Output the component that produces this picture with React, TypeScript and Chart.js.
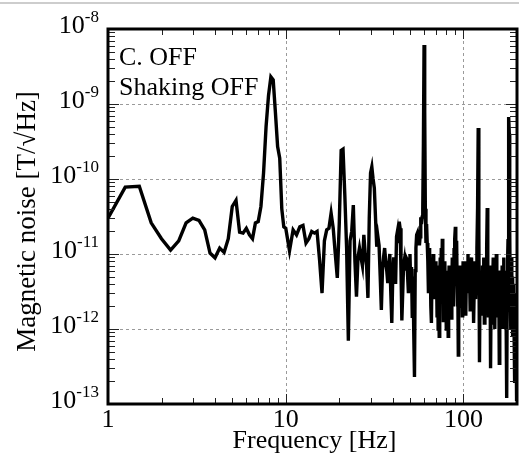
import React, { useEffect, useRef } from "react";
import { Chart, registerables } from "chart.js";

Chart.register(...registerables);

const FONT = '"Liberation Serif", "Times New Roman", Times, serif';

// Frequencies [Hz] and magnetic noise values in pT/√Hz (1 pT = 1e-12 T)
const freqA = [1, 1.25, 1.5, 1.75, 2, 2.25, 2.5, 2.75, 3, 3.25,
  3.5, 3.75, 4, 4.25, 4.5, 4.75, 5, 5.25, 5.5, 5.75,
  6, 6.25, 6.5, 6.75, 7, 7.25, 7.5, 7.75, 8, 8.25,
  8.5, 8.75, 9, 9.25, 9.5, 9.75];
const noiseA = [30, 78, 80, 26, 16, 11.3, 15, 26, 30, 28,
  21, 10.3, 8.9, 12, 10.5, 16, 43, 52, 19.5, 19,
  22, 18, 16, 26, 27, 43, 120, 500, 1300, 2300,
  2100, 760, 270, 190, 40, 23];

const freqB = [10, 10.5, 11, 11.5, 12, 12.5, 13, 13.5, 14, 14.5,
  15, 15.5, 16, 16.5, 17, 17.5, 18, 18.5, 19, 19.5,
  20, 20.5, 21, 21.5, 22, 22.5, 23, 23.5, 24, 24.5,
  25, 25.5, 26, 26.5, 27, 27.5, 28, 28.5, 29, 29.5];
const noiseB = [22, 11, 21, 18, 23, 24, 14, 16, 20, 19,
  20, 8.3, 3.0, 15, 21, 22, 35, 22, 10, 4.8,
  25, 240, 250, 60, 12, 0.7, 15, 20, 45, 8,
  2.7, 9, 12, 9, 7, 18, 10, 7, 2.6, 30];

const freqC = [30, 30.5, 31, 31.5, 32, 32.5, 33, 33.5, 34, 34.5,
  35, 35.5, 36, 36.5, 37, 37.5, 38, 38.5, 39, 39.5,
  40, 40.5, 41, 41.5, 42, 42.5, 43, 43.5, 44, 44.5,
  45, 45.5, 46, 46.5, 47, 47.5, 48, 48.5, 49, 49.5,
  50, 50.5, 51, 51.5, 52, 52.5, 53, 53.5, 54, 54.5,
  55, 55.5, 56, 56.5, 57, 57.5, 58, 58.5, 59, 59.5,
  60, 60.5, 61, 61.5, 62, 62.5];
const noiseC = [120, 145, 100, 76, 30, 12.5, 17, 13, 5, 1.8,
  6, 9, 12, 8, 6, 4.1, 7, 10, 3, 1.2,
  5, 9, 6, 4, 17, 20, 14, 27, 22, 6,
  1.3, 3, 7, 8.3, 6, 9, 8.5, 5, 3, 6,
  10, 3.3, 6.7, 1.4, 5, 0.9, 0.23, 6, 12, 18,
  19, 14, 21, 13, 17, 31, 25, 31, 40, 300,
  6100, 800, 40, 14, 25, 14];

const freqD = [63, 63.5, 64, 64.5, 65, 65.5, 66, 66.5, 67, 67.5,
  68, 68.5, 69, 69.5, 70, 70.5, 71, 71.5, 72, 72.5,
  73, 73.5, 74, 74.5, 75, 75.5, 76, 76.5, 77, 77.5,
  78, 78.5, 79, 79.5, 80, 80.5, 81, 81.5, 82, 82.5,
  83, 83.5, 84, 84.5, 85, 85.5, 86, 86.5, 87, 87.5,
  88, 88.5, 89, 89.5, 90, 90.5, 91, 91.5, 92, 92.5,
  93, 93.5, 94, 94.5, 95, 95.5, 96, 96.5, 97, 97.5,
  98, 98.5, 99, 99.5, 100];
const noiseD = [8, 3, 12, 4, 9, 2, 1.2, 6, 3, 10,
  4, 7, 2.5, 8, 3.3, 6, 1.5, 7, 1.0, 4,
  0.8, 5, 9, 3, 12, 4, 16, 6, 1.3, 5,
  2, 8, 3, 4.6, 1.0, 6, 2.7, 5, 0.8, 4,
  7, 2, 5, 3, 6, 1.4, 4, 9, 3, 7,
  2, 12, 5, 16, 23, 8, 4, 15, 4.6, 2,
  6, 0.45, 3, 5, 2, 7, 3, 5, 2, 3.6,
  6, 1.5, 4, 8, 3];

const freqE = [101, 102, 103, 104, 105, 106, 107, 108, 109, 110,
  111, 112, 113, 114, 115, 116, 117, 118, 119, 120,
  121, 122, 123, 124, 125, 126, 127, 128, 129, 130,
  131, 132, 133, 134, 135, 136, 137, 138, 139, 140,
  141, 142, 143, 144, 145, 146, 147, 148, 149, 150,
  151, 152, 153, 154, 155, 156, 157, 158, 159, 160,
  161, 162, 163, 164, 165, 166, 167, 168, 169, 170,
  171, 172, 173, 174, 175, 176, 177, 178, 179, 180,
  181, 182, 183, 184, 185, 186, 187, 188, 189, 190,
  191, 192, 193, 194, 195, 196, 197, 198, 199, 200];
const noiseE = [2.7, 6, 1.5, 8, 4.6, 10, 3, 7, 1.8, 5,
  9, 2, 6, 1.2, 4, 8, 2.5, 5, 12, 40,
  480, 20, 0.36, 5, 2, 6, 1.5, 7, 3, 9,
  1.2, 4, 8, 2, 12, 41, 6, 1.5, 5, 2.5,
  7, 0.3, 3, 6, 1.2, 4, 9, 2, 5, 1,
  6, 3, 10, 4, 1.5, 5, 2, 4, 0.35, 3,
  6, 1.5, 5, 2, 7, 1, 4, 9, 2.5, 6,
  1, 3, 5, 0.8, 0.12, 2, 8, 15, 30, 670,
  400, 20, 4, 1, 3, 9, 1.5, 5, 0.8, 3,
  1.2, 4, 0.6, 0.19, 2, 1, 3, 0.5, 0.11, 1];

const xTickValues = [1, 10, 100];
const xTickLabels = ["1", "10", "100"];
const yDecadeExponents = [-8, -9, -10, -11, -12, -13];
const annotationLines = ["C. OFF", "Shaking OFF"];
const xTitle = "Frequency [Hz]";
const yTitle = "Magnetic noise [T/√Hz]";

const X_MIN = 1;
const X_MAX = 200;
const Y_MIN = 1e-13;
const Y_MAX = 1e-8;
const PT = 1e-12;

const allFreq = [...freqA, ...freqB, ...freqC, ...freqD, ...freqE];
const allNoise = [...noiseA, ...noiseB, ...noiseC, ...noiseD, ...noiseE];

const framePlugin = {
  id: "framePlugin",
  beforeDatasetsDraw(chart: any) {
    const { ctx, chartArea: a, scales } = chart;
    const x = scales.x;
    const y = scales.y;
    ctx.save();
    ctx.strokeStyle = "#9a9a9a";
    ctx.lineWidth = 1;
    ctx.setLineDash([3, 3]);
    for (const v of xTickValues) {
      const px = Math.round(x.getPixelForValue(v)) + 0.5;
      if (px > a.left + 3 && px < a.right - 3) {
        ctx.beginPath();
        ctx.moveTo(px, a.top);
        ctx.lineTo(px, a.bottom);
        ctx.stroke();
      }
    }
    for (const e of yDecadeExponents) {
      const py = Math.round(y.getPixelForValue(Math.pow(10, e))) + 0.5;
      if (py > a.top + 3 && py < a.bottom - 3) {
        ctx.beginPath();
        ctx.moveTo(a.left, py);
        ctx.lineTo(a.right, py);
        ctx.stroke();
      }
    }
    ctx.restore();
  },
  afterDatasetsDraw(chart: any) {
    const { ctx, chartArea: a, scales } = chart;
    const x = scales.x;
    const y = scales.y;
    ctx.save();
    ctx.strokeStyle = "#222";
    ctx.lineWidth = 1;
    ctx.setLineDash([]);
    // x ticks (bottom and top, inward)
    for (let d = 1; d <= 100; d *= 10) {
      for (let m = 1; m <= 9; m++) {
        const v = d * m;
        if (v < X_MIN || v > X_MAX) continue;
        const px = Math.round(x.getPixelForValue(v)) + 0.5;
        const len = m === 1 ? 10 : 6;
        ctx.beginPath();
        ctx.moveTo(px, a.bottom);
        ctx.lineTo(px, a.bottom - len);
        ctx.moveTo(px, a.top);
        ctx.lineTo(px, a.top + len);
        ctx.stroke();
      }
    }
    // y ticks (left and right, inward)
    for (let e = -13; e <= -8; e++) {
      for (let m = 1; m <= 9; m++) {
        const v = m * Math.pow(10, e);
        if (v < Y_MIN * 0.999 || v > Y_MAX * 1.001) continue;
        const py = Math.round(y.getPixelForValue(v)) + 0.5;
        const len = m === 1 ? 11 : 7;
        ctx.beginPath();
        ctx.moveTo(a.left, py);
        ctx.lineTo(a.left + len, py);
        ctx.moveTo(a.right, py);
        ctx.lineTo(a.right - len, py);
        ctx.stroke();
      }
    }
    // frame
    ctx.strokeStyle = "#000";
    ctx.lineWidth = 3;
    ctx.strokeRect(a.left, a.top, a.right - a.left, a.bottom - a.top);

    // tick labels
    ctx.fillStyle = "#000";
    ctx.textBaseline = "alphabetic";
    ctx.textAlign = "center";
    ctx.font = `26px ${FONT}`;
    xTickValues.forEach((v, i) => {
      const px = x.getPixelForValue(v);
      ctx.fillText(xTickLabels[i], px, a.bottom + 23);
    });

    ctx.textAlign = "left";
    for (const e of yDecadeExponents) {
      const py = y.getPixelForValue(Math.pow(10, e));
      const sup = String(e);
      ctx.font = `26px ${FONT}`;
      const wBase = ctx.measureText("10").width;
      ctx.font = `17px ${FONT}`;
      const wSup = ctx.measureText(sup).width;
      const right = a.left - 9;
      const x0 = right - wBase - wSup;
      ctx.font = `26px ${FONT}`;
      ctx.fillText("10", x0, py + 4);
      ctx.font = `17px ${FONT}`;
      ctx.fillText(sup, x0 + wBase, py - 7);
    }

    // axis titles
    ctx.textAlign = "center";
    ctx.font = `26px ${FONT}`;
    ctx.fillText(xTitle, (a.left + a.right) / 2 + 2, a.bottom + 44);
    ctx.save();
    ctx.translate(35, (a.top + a.bottom) / 2 + 5);
    ctx.rotate(-Math.PI / 2);
    ctx.font = `27px ${FONT}`;
    ctx.fillText(yTitle, 0, 0);
    ctx.restore();

    // annotations
    ctx.textAlign = "left";
    ctx.font = `26px ${FONT}`;
    annotationLines.forEach((t, i) => {
      ctx.fillText(t, a.left + 11, a.top + 36 + i * 30);
    });
    ctx.restore();
  },
};

export default function App() {
  const canvasRef = useRef<HTMLCanvasElement | null>(null);

  useEffect(() => {
    document.body.style.margin = "0";
    const canvas = canvasRef.current;
    if (!canvas) return;
    const points = allFreq.map((f, i) => ({ x: f, y: allNoise[i] * PT }));
    const chart = new Chart(canvas, {
      type: "line",
      data: {
        datasets: [
          {
            data: points,
            borderColor: "#000",
            borderWidth: 3.4,
            pointRadius: 0,
            tension: 0,
            fill: false,
            borderJoinStyle: "miter" as any,
          },
        ],
      },
      options: {
        animation: false,
        responsive: false,
        devicePixelRatio: 1,
        parsing: false as any,
        layout: { padding: { top: 29, right: 2, bottom: 0, left: 0 } },
        plugins: { legend: { display: false }, tooltip: { enabled: false } },
        scales: {
          x: {
            type: "logarithmic",
            min: X_MIN,
            max: X_MAX,
            position: "bottom",
            grid: { display: false },
            border: { display: false },
            ticks: { display: false },
            afterFit: (s: any) => {
              s.height = 50;
            },
          },
          y: {
            type: "logarithmic",
            min: Y_MIN,
            max: Y_MAX,
            position: "left",
            grid: { display: false },
            border: { display: false },
            ticks: { display: false },
            afterFit: (s: any) => {
              s.width = 108;
            },
          },
        },
      },
      plugins: [framePlugin],
    });
    return () => chart.destroy();
  }, []);

  return (
    <div style={{ position: "relative", width: 519, height: 454, background: "#fff" }}>
      <div
        style={{
          position: "absolute",
          top: 2,
          left: 0,
          width: 519,
          height: 2,
          background: "#cdcdcd",
        }}
      />
      <canvas
        ref={canvasRef}
        width={519}
        height={454}
        style={{ position: "absolute", left: 0, top: 0, display: "block" }}
      />
    </div>
  );
}
